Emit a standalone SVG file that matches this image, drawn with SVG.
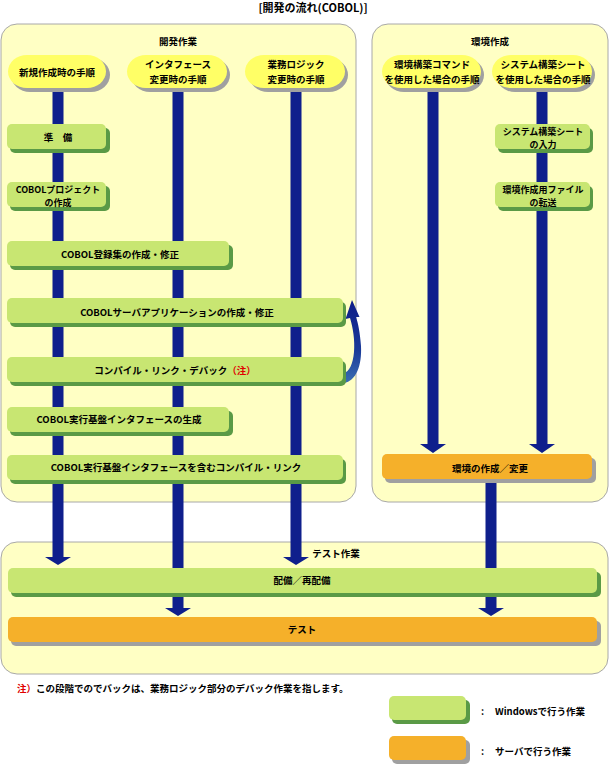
<svg xmlns="http://www.w3.org/2000/svg" width="609" height="766" viewBox="0 0 609 766">
<defs>
<style>
text{font-family:"Noto Sans CJK JP","Noto Sans CJK SC",sans-serif;font-size:9.5px;fill:#000;text-anchor:middle;font-weight:bold}
.t2{font-size:9px}
.panel{fill:#FFFFC4;stroke:#A8A8A8;stroke-width:1}
.pill{fill:#FFFF66}
.psh{fill:#A0A0A0}
.gn{fill:#C8E672}
.gsh{fill:#5A9A46}
.or{fill:#F5B02A}
.osh{fill:#A0A0A0}
.bar{fill:#0F1F8C}
.red{fill:#E00000}
</style>
<linearGradient id="cg" x1="0" y1="0" x2="0" y2="1">
<stop offset="0" stop-color="#0D1C88"/>
<stop offset="0.6" stop-color="#1A3A98"/>
<stop offset="1" stop-color="#3A6EB2"/>
</linearGradient>
</defs>
<rect width="609" height="766" fill="#fff"/>
<text x="313" y="12" style="font-size:11px">[開発の流れ(COBOL)]</text>

<g id="panel-dev"><rect class="panel" x="1" y="24" width="355" height="478" rx="16"/><text x="178" y="45">開発作業</text></g>
<g id="panel-env"><rect class="panel" x="372" y="24" width="236" height="478" rx="16"/><text x="490" y="45">環境作成</text></g>
<g id="panel-test"><rect class="panel" x="1" y="542" width="607" height="132" rx="16"/></g>

<g id="connectors">
<path class="bar" d="M52.5 92h11v465h7.5l-13 8-13-8h7.5z"/>
<path class="bar" d="M172.5 92h11v516h7.5l-13 8-13-8h7.5z"/>
<path class="bar" d="M290.5 92h11v465h7.5l-13 8-13-8h7.5z"/>
<path class="bar" d="M427.5 92h11v352h7.5l-13 9-13-9h7.5z"/>
<path class="bar" d="M536.5 92h11v352h7.5l-13 9-13-9h7.5z"/>
<path class="bar" d="M485.5 480h11v128h7.5l-13 8-13-8h7.5z"/>
<path fill="url(#cg)" d="M344 383 C356 381 362 366 361 346 C360 332 358 323 356 317 L359.5 317 L352 300 L345.5 319 L350 318 C353 328 355 340 354 352 C353 364 349 372 344 373 Z"/>
</g>

<text x="336" y="557">テスト作業</text>

<g id="h1"><rect class="psh" x="11" y="58" width="99" height="34" rx="19" ry="17"/><rect class="pill" x="8" y="55" width="98" height="33" rx="19" ry="16.5"/><text x="57" y="76">新規作成時の手順</text></g>
<g id="h2"><rect class="psh" x="131" y="58" width="99" height="34" rx="19" ry="17"/><rect class="pill" x="127" y="55" width="100" height="33" rx="19" ry="16.5"/><text x="178" y="68">インタフェース</text><text x="178" y="83">変更時の手順</text></g>
<g id="h3"><rect class="psh" x="249" y="58" width="99" height="34" rx="19" ry="17"/><rect class="pill" x="245" y="55" width="100" height="33" rx="19" ry="16.5"/><text x="296" y="68">業務ロジック</text><text x="296" y="83">変更時の手順</text></g>
<g id="h4"><rect class="psh" x="385" y="58" width="99" height="34" rx="19" ry="17"/><rect class="pill" x="382" y="55" width="99" height="33" rx="19" ry="16.5"/><text x="432" y="68">環境構築コマンド</text><text x="432" y="83">を使用した場合の手順</text></g>
<g id="h5"><rect class="psh" x="496" y="58" width="99" height="34" rx="19" ry="17"/><rect class="pill" x="492" y="55" width="100" height="33" rx="19" ry="16.5"/><text x="543" y="68">システム構築シート</text><text x="543" y="83">を使用した場合の手順</text></g>

<g id="n-junbi"><rect class="gsh" x="10" y="128" width="100" height="25" rx="5"/><rect class="gn" x="7" y="124" width="99" height="25" rx="5"/><text x="58" y="141">準　備</text></g>
<g id="n-proj"><rect class="gsh" x="10" y="186" width="100" height="25" rx="5"/><rect class="gn" x="7" y="182" width="99" height="25" rx="5"/><text class="t2" x="58" y="192.5">COBOLプロジェクト</text><text class="t2" x="58" y="205.5">の作成</text></g>
<g id="n-sheet"><rect class="gsh" x="498" y="128" width="95" height="25" rx="5"/><rect class="gn" x="495" y="124" width="95" height="25" rx="5"/><text class="t2" x="543" y="134.5">システム構築シート</text><text class="t2" x="543" y="147.5">の入力</text></g>
<g id="n-file"><rect class="gsh" x="498" y="186" width="95" height="25" rx="5"/><rect class="gn" x="495" y="182" width="95" height="25" rx="5"/><text class="t2" x="543" y="192.5">環境作成用ファイル</text><text class="t2" x="543" y="205.5">の転送</text></g>
<g id="n-lib"><rect class="gsh" x="10" y="245" width="223" height="25" rx="5"/><rect class="gn" x="7" y="241" width="222" height="25" rx="5"/><text x="120" y="258">COBOL登録集の作成・修正</text></g>
<g id="n-app"><rect class="gsh" x="10" y="302" width="336" height="25" rx="5"/><rect class="gn" x="7" y="298" width="336" height="25" rx="5"/><text x="177" y="316">COBOLサーバアプリケーションの作成・修正</text></g>
<g id="n-compile"><rect class="gsh" x="10" y="361" width="336" height="25" rx="5"/><rect class="gn" x="7" y="357" width="336" height="25" rx="5"/><text x="175" y="374">コンパイル・リンク・デバック<tspan class="red">（注）</tspan></text></g>
<g id="n-if"><rect class="gsh" x="10" y="411" width="223" height="25" rx="5"/><rect class="gn" x="7" y="407" width="222" height="25" rx="5"/><text x="119" y="423">COBOL実行基盤インタフェースの生成</text></g>
<g id="n-iflink"><rect class="gsh" x="10" y="459" width="336" height="25" rx="5"/><rect class="gn" x="7" y="455" width="336" height="25" rx="5"/><text x="176" y="471">COBOL実行基盤インタフェースを含むコンパイル・リンク</text></g>
<g id="n-env"><rect class="osh" x="385" y="458" width="211" height="25" rx="5"/><rect class="or" x="382" y="454" width="210" height="25" rx="5"/><text x="490" y="472">環境の作成／変更</text></g>
<g id="n-deploy"><rect class="gsh" x="11" y="572" width="590" height="25" rx="5"/><rect class="gn" x="8" y="568" width="589" height="25" rx="5"/><text x="302" y="584">配備／再配備</text></g>
<g id="n-test"><rect class="osh" x="11" y="621" width="590" height="25" rx="5"/><rect class="or" x="8" y="617" width="589" height="25" rx="5"/><text x="302" y="633">テスト</text></g>

<text x="17" y="692" style="text-anchor:start"><tspan class="red">注）</tspan>この段階でのでバックは、業務ロジック部分のデバック作業を指します。</text>

<g id="legend">
<rect class="gsh" x="392" y="700" width="78" height="24" rx="5"/><rect class="gn" x="389" y="696" width="77" height="24" rx="5"/>
<text x="481" y="715" style="text-anchor:start">:</text><text x="495" y="715" style="text-anchor:start">Windowsで行う作業</text>
<rect class="osh" x="392" y="740" width="78" height="24" rx="5"/><rect class="or" x="389" y="736" width="77" height="24" rx="5"/>
<text x="481" y="755" style="text-anchor:start">:</text><text x="495" y="755" style="text-anchor:start">サーバで行う作業</text>
</g>
</svg>
